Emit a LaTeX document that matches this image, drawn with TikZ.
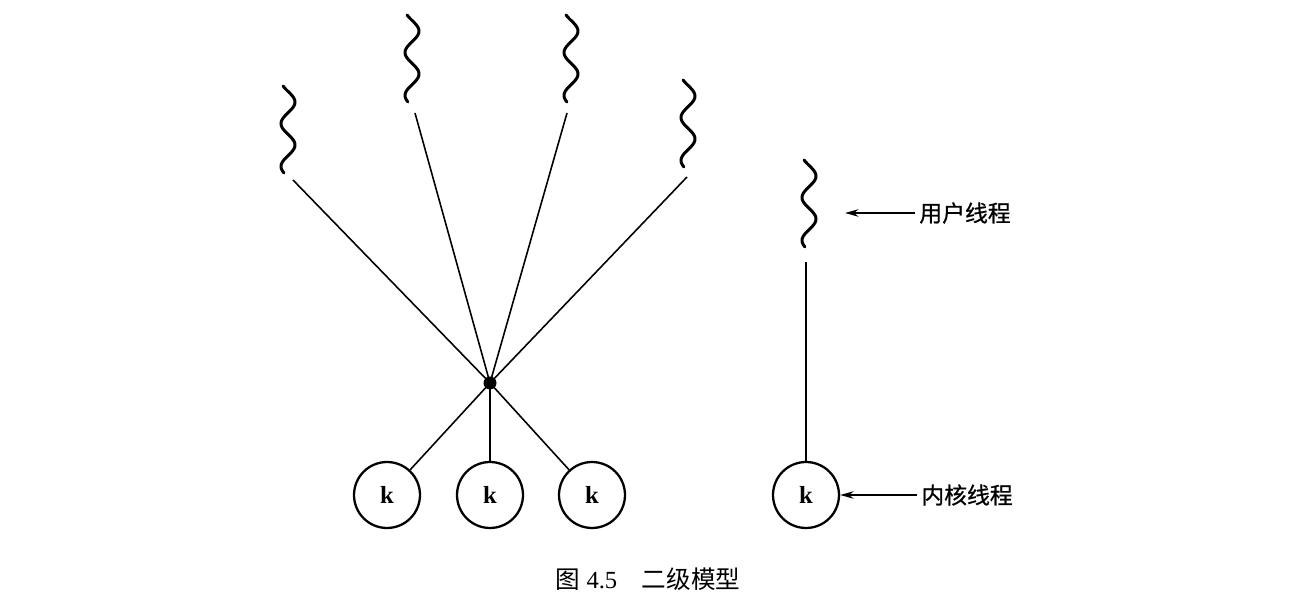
\documentclass[tikz,border=0pt]{standalone}
\usepackage{fontspec}
\setmainfont{Liberation Serif}
\newfontfamily\cjk{Noto Sans CJK SC}
\newfontfamily\cjkb[FakeBold=0.8]{Noto Sans CJK SC}
\usetikzlibrary{arrows.meta}
\begin{document}
\begin{tikzpicture}[x=0.02cm,y=-0.02cm,
  squig/.style={line width=1.7pt,line cap=round},
  thin link/.style={line width=0.9pt},
  kcirc/.style={circle,draw,line width=1.3pt,minimum size=1.32cm,inner sep=0pt,font=\bfseries\fontsize{14}{16}\selectfont},
  lbl/.style={anchor=west,inner sep=0pt,font=\cjkb\fontsize{13}{15}\selectfont},
  pointer/.style={line width=0.9pt,-{Stealth[length=0.27cm,width=0.15cm]}}]
\useasboundingbox (0,0) rectangle (1316,604);
\newcommand\squig[3]{\draw[squig] plot[domain=0:1,samples=80,smooth] ({#1+7*sin(-45+730*\x)},{#2+(#3-#2)*\x});}
% user-thread squiggles
\squig{288}{86}{173}
\squig{412}{15}{102}
\squig{571}{15}{102}
\squig{688}{80}{167}
\squig{809}{160}{247}
% line ends under the squiggles
\coordinate (u1) at (293,180);
\coordinate (u2) at (415,113);
\coordinate (u3) at (567,113);
\coordinate (u4) at (687,177);
\coordinate (u5) at (806,262);
% hub
\node[circle,fill,inner sep=0pt,minimum size=0.26cm] (hub) at (490,383) {};
% kernel threads
\node[kcirc] (k1) at (387,495) {k};
\node[kcirc] (k2) at (490,495) {k};
\node[kcirc] (k3) at (592,495) {k};
\node[kcirc] (k4) at (806,495) {k};
% connectors
\foreach \u in {u1,u2,u3,u4} \draw[thin link] (\u) -- (hub.center);
\foreach \k in {k1,k2,k3} \draw[thin link] (hub.center) -- (\k);
\draw[thin link] (u5) -- (k4);
% labels
\node[lbl] (l1) at (919,213) {用户线程};
\node[lbl] (l2) at (921,495) {内核线程};
\coordinate (a1) at (845,213);
\draw[pointer] (l1.west) ++(-4,0) coordinate (l1s) (l1s) -- (a1);
\draw[pointer] ([xshift=-0.08cm]l2.west) -- (k4.east);
% caption
\node[inner sep=0pt,font=\fontsize{14}{16}\selectfont] (cap) at (648,579) {{\cjk 图} 4.5\quad{\cjk 二级模型}};
\end{tikzpicture}
\end{document}
